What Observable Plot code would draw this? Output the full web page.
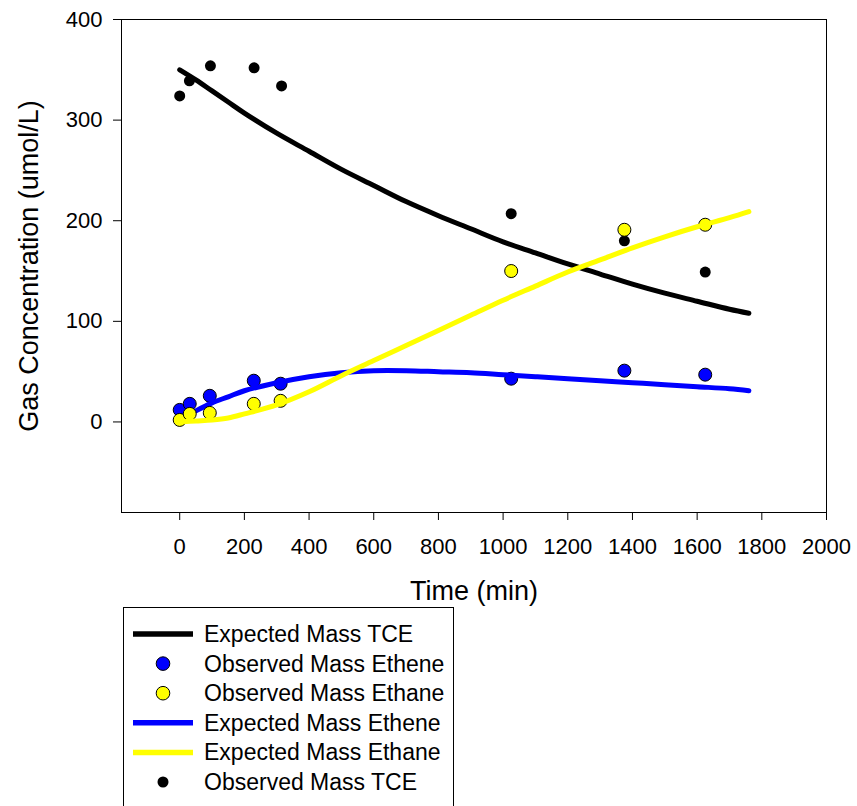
<!DOCTYPE html>
<html>
<head>
<meta charset="utf-8">
<script src="https://cdn.jsdelivr.net/npm/d3@7"></script>
<script src="https://cdn.jsdelivr.net/npm/@observablehq/plot@0.6"></script>
<style>
  html, body { margin: 0; padding: 0; background: white; }
  body { font-family: "Liberation Sans", Arial, sans-serif; }
  #legend { margin-left: 123px; width: 331px; height: 230px; border: 1px solid black; border-bottom: none; box-sizing: border-box; }
</style>
</head>
<body>
<div id="chart"></div>
<div id="legend"></div>
<script>
// Observed data (time in min, concentration in umol/L)
const obsTimeTCE = [0, 30, 95, 230, 315, 1025, 1375, 1625];
const obsTCE     = [324, 339, 354, 352, 334, 207, 180, 149];
const obsTimeEthene = [0, 31, 93, 229, 312, 1025, 1375, 1625];
const obsEthene     = [12, 18, 26, 41, 38, 43, 51, 47];
const obsTimeEthane = [0, 31, 93, 229, 312, 1025, 1375, 1625];
const obsEthane     = [2, 8, 9, 18, 21, 150, 191, 196];

// Expected (model) curves
const expTime   = [0, 50, 100, 150, 200, 300, 400, 500, 600, 700, 800, 900, 1000, 1100, 1200, 1300, 1400, 1500, 1600, 1700, 1760];
const expTCE    = [350, 340, 329, 318, 307, 287, 269, 251, 235, 219, 205, 192, 179, 168, 157, 147, 137, 128, 120, 112, 108];
const expEthene = [2, 11, 19, 25, 31, 39, 45, 49, 51, 51, 50, 49, 47, 45, 43, 41, 39, 37, 35, 33, 31];
const expEthane = [0, 1, 2, 4, 8, 17, 30, 46, 61, 76, 91, 106, 121, 135, 149, 161, 173, 184, 194, 203, 209];

const xTicks = [0, 200, 400, 600, 800, 1000, 1200, 1400, 1600, 1800, 2000];
const yTicks = [0, 100, 200, 300, 400];

const xTitle = "Time (min)";
const yTitle = "Gas Concentration (umol/L)";

const legendItems = [
  {label: "Expected Mass TCE", type: "line", color: "#000000"},
  {label: "Observed Mass Ethene", type: "dot", color: "#0000ff"},
  {label: "Observed Mass Ethane", type: "dot", color: "#ffff00"},
  {label: "Expected Mass Ethene", type: "line", color: "#0000ff"},
  {label: "Expected Mass Ethane", type: "line", color: "#ffff00"},
  {label: "Observed Mass TCE", type: "small", color: "#000000"}
];

const pts = (ts, vs) => ts.map((t, i) => ({t, v: vs[i]}));

const chart = Plot.plot({
  width: 857,
  height: 607,
  marginLeft: 121,
  marginRight: 31,
  marginTop: 19,
  marginBottom: 95,
  style: {fontFamily: "'Liberation Sans', Arial, sans-serif", fontSize: "22px", color: "black", background: "white", overflow: "visible"},
  x: {domain: [-180, 2000], ticks: xTicks, tickSize: 8, tickPadding: 18, label: null, tickFormat: d => String(d)},
  y: {domain: [-90, 400], ticks: yTicks, tickSize: 8, tickPadding: 11, label: null, tickFormat: d => String(d)},
  marks: [
    Plot.dot(pts(obsTimeTCE, obsTCE), {x: "t", y: "v", r: 5.5, fill: "black", stroke: "none"}),
    Plot.line(pts(expTime, expTCE), {x: "t", y: "v", stroke: "black", strokeWidth: 5, curve: "catmull-rom"}),
    Plot.dot(pts(obsTimeEthene, obsEthene), {x: "t", y: "v", r: 6.5, fill: "#0000ff", stroke: "black", strokeWidth: 1}),
    Plot.line(pts(expTime, expEthene), {x: "t", y: "v", stroke: "#0000ff", strokeWidth: 5, curve: "catmull-rom"}),
    Plot.dot(pts(obsTimeEthane, obsEthane), {x: "t", y: "v", r: 6.5, fill: "#ffff00", stroke: "black", strokeWidth: 1}),
    Plot.line(pts(expTime, expEthane), {x: "t", y: "v", stroke: "#ffff00", strokeWidth: 5, curve: "catmull-rom"}),
    Plot.frame({stroke: "black", strokeWidth: 1}),
    Plot.text([xTitle], {text: d => d, frameAnchor: "bottom", dy: 79, fontSize: 27, lineAnchor: "middle", textAnchor: "middle", fill: "black"}),
    Plot.text([yTitle], {text: d => d, frameAnchor: "left", rotate: -90, dx: -92, dy: 0, fontSize: 27, lineAnchor: "middle", textAnchor: "middle", fill: "black"})
  ]
});
document.getElementById("chart").appendChild(chart);

// Legend
const lg = d3.select("#legend").append("svg")
  .attr("width", 329).attr("height", 228)
  .style("display", "block")
  .style("font-family", "'Liberation Sans', Arial, sans-serif");
const rowY = i => 26 + i * 29.6;
legendItems.forEach((it, i) => {
  const y = rowY(i);
  if (it.type === "line") {
    lg.append("line").attr("x1", 9).attr("x2", 69).attr("y1", y).attr("y2", y)
      .attr("stroke", it.color).attr("stroke-width", 5.5);
  } else if (it.type === "dot") {
    lg.append("circle").attr("cx", 39).attr("cy", y).attr("r", 6.8)
      .attr("fill", it.color).attr("stroke", "black").attr("stroke-width", 1);
  } else {
    lg.append("circle").attr("cx", 39).attr("cy", y).attr("r", 5.5).attr("fill", it.color);
  }
  lg.append("text").attr("x", 80).attr("y", y).attr("dy", "0.35em")
    .attr("font-size", 23).attr("fill", "black").text(it.label);
});
</script>
</body>
</html>
